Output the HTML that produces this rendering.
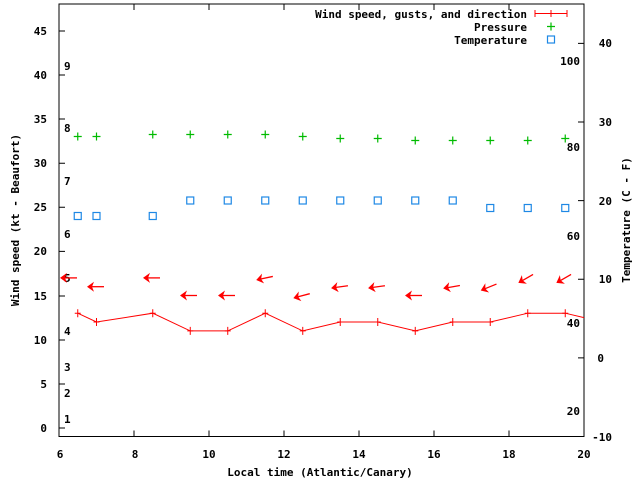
<!DOCTYPE html>
<html><head><meta charset="utf-8"><style>
body{margin:0;background:#fff}
svg{display:block}
text{font-family:"DejaVu Sans Mono","Liberation Mono",monospace;font-size:11px;font-weight:bold;fill:#000}
</style></head><body>
<svg width="640" height="480" xmlns="http://www.w3.org/2000/svg">
<defs>
<g id="ar"><line x1="7" y1="0" x2="-6" y2="0" stroke="#f00" stroke-width="1.3"/><path d="M-10,0 L-3,-5 L-5,0 L-3,5Z" fill="#f00"/></g>
<g id="pl"><path d="M-4,0H4M0,-4V4" stroke="#0b0" stroke-width="1.2"/></g>
<g id="sq"><rect x="-3.5" y="-3.5" width="7" height="7" fill="none" stroke="#1e88e5" stroke-width="1.2"/></g>
<g id="wt"><path d="M0,-4V4M-3,0H3" stroke="#f00" stroke-width="1"/></g>
</defs>
<rect x="59" y="4" width="525" height="432.5" fill="none" stroke="#000" stroke-width="1"/>
<g stroke="#000" stroke-width="1">
<path d="M59,428h6M59,384h6M59,340h6M59,296h6M59,251.4h6M59,207.3h6M59,163.2h6M59,119h6M59,75h6M59,31h6"/>
<path d="M584,436.5h-6M584,357.9h-6M584,279.2h-6M584,200.6h-6M584,122h-6M584,43.4h-6"/>
<path d="M59,436.5v-6M134,436.5v-6M209,436.5v-6M284,436.5v-6M359,436.5v-6M434,436.5v-6M509,436.5v-6M584,436.5v-6"/>
<path d="M134,4v6M209,4v6M284,4v6M359,4v6M434,4v6M509,4v6"/>
</g>
<g text-anchor="end">
<text x="47" y="432">0</text><text x="47" y="388">5</text><text x="47" y="344">10</text><text x="47" y="300">15</text><text x="47" y="255">20</text><text x="47" y="211">25</text><text x="47" y="167">30</text><text x="47" y="123">35</text><text x="47" y="79">40</text><text x="47" y="35">45</text>
</g>
<g text-anchor="end">
<text x="612" y="441">-10</text><text x="604" y="362">0</text><text x="612" y="283">10</text><text x="612" y="205">20</text><text x="612" y="126">30</text><text x="612" y="47">40</text>
</g>
<g text-anchor="middle">
<text x="60" y="458">6</text><text x="135" y="458">8</text><text x="209" y="458">10</text><text x="284" y="458">12</text><text x="359" y="458">14</text><text x="434" y="458">16</text><text x="509" y="458">18</text><text x="584" y="458">20</text>
<text x="320" y="476">Local time (Atlantic/Canary)</text>
</g>
<text transform="translate(19,220) rotate(-90)" text-anchor="middle">Wind speed (kt - Beaufort)</text>
<text transform="translate(630,220) rotate(-90)" text-anchor="middle">Temperature (C - F)</text>
<g>
<text x="64" y="423">1</text><text x="64" y="397">2</text><text x="64" y="371">3</text><text x="64" y="335">4</text><text x="64" y="282">5</text><text x="64" y="238">6</text><text x="64" y="185">7</text><text x="64" y="132">8</text><text x="64" y="70">9</text>
</g>
<g text-anchor="end">
<text x="580" y="65">100</text><text x="580" y="151">80</text><text x="580" y="240">60</text><text x="580" y="327">40</text><text x="580" y="415">20</text>
</g>
<text x="527" y="18" text-anchor="end">Wind speed, gusts, and direction</text>
<text x="527" y="31" text-anchor="end">Pressure</text>
<text x="527" y="44" text-anchor="end">Temperature</text>
<path d="M535,13.5h32M535,10v7M567,10v7M551,10v7" stroke="#f00" stroke-width="1"/>
<use href="#pl" x="551" y="26.5"/>
<use href="#sq" x="551" y="39.5"/>
<polyline fill="none" stroke="#f00" stroke-width="1" points="77.75,313.2 96.5,322 152.75,313.2 190.25,330.9 227.75,330.9 265.25,313.2 302.75,330.9 340.25,322 377.75,322 415.25,330.9 452.75,322 490.25,322 527.75,313.2 565.25,313.2 584,317.6"/>
<use href="#wt" x="77.75" y="313.2"/><use href="#wt" x="96.5" y="322"/><use href="#wt" x="152.75" y="313.2"/><use href="#wt" x="190.25" y="330.9"/><use href="#wt" x="227.75" y="330.9"/><use href="#wt" x="265.25" y="313.2"/><use href="#wt" x="302.75" y="330.9"/><use href="#wt" x="340.25" y="322"/><use href="#wt" x="377.75" y="322"/><use href="#wt" x="415.25" y="330.9"/><use href="#wt" x="452.75" y="322"/><use href="#wt" x="490.25" y="322"/><use href="#wt" x="527.75" y="313.2"/><use href="#wt" x="565.25" y="313.2"/>
<use href="#ar" transform="translate(70,277.9)"/>
<use href="#ar" transform="translate(97,286.7)"/>
<use href="#ar" transform="translate(153,277.9)"/>
<use href="#ar" transform="translate(190,295.5)"/>
<use href="#ar" transform="translate(228,295.5)"/>
<use href="#ar" transform="translate(266,277.9) rotate(-12)"/>
<use href="#ar" transform="translate(303,295.5) rotate(-15)"/>
<use href="#ar" transform="translate(341,286.7) rotate(-8)"/>
<use href="#ar" transform="translate(378,286.7) rotate(-8)"/>
<use href="#ar" transform="translate(415,295.5)"/>
<use href="#ar" transform="translate(453,286.7) rotate(-10)"/>
<use href="#ar" transform="translate(490,286.7) rotate(-22)"/>
<use href="#ar" transform="translate(527,277.9) rotate(-30)"/>
<use href="#ar" transform="translate(565,277.9) rotate(-30)"/>
<use href="#pl" x="77.75" y="136.5"/><use href="#pl" x="96.5" y="136.5"/><use href="#pl" x="152.75" y="134.5"/><use href="#pl" x="190.25" y="134.5"/><use href="#pl" x="227.75" y="134.5"/><use href="#pl" x="265.25" y="134.5"/><use href="#pl" x="302.75" y="136.5"/><use href="#pl" x="340.25" y="138.5"/><use href="#pl" x="377.75" y="138.5"/><use href="#pl" x="415.25" y="140.5"/><use href="#pl" x="452.75" y="140.5"/><use href="#pl" x="490.25" y="140.5"/><use href="#pl" x="527.75" y="140.5"/><use href="#pl" x="565.25" y="138.5"/>
<use href="#sq" x="77.75" y="216"/><use href="#sq" x="96.5" y="216"/><use href="#sq" x="152.75" y="216"/><use href="#sq" x="190.25" y="200.5"/><use href="#sq" x="227.75" y="200.5"/><use href="#sq" x="265.25" y="200.5"/><use href="#sq" x="302.75" y="200.5"/><use href="#sq" x="340.25" y="200.5"/><use href="#sq" x="377.75" y="200.5"/><use href="#sq" x="415.25" y="200.5"/><use href="#sq" x="452.75" y="200.5"/><use href="#sq" x="490.25" y="208"/><use href="#sq" x="527.75" y="208"/><use href="#sq" x="565.25" y="208"/>
</svg>
</body></html>
